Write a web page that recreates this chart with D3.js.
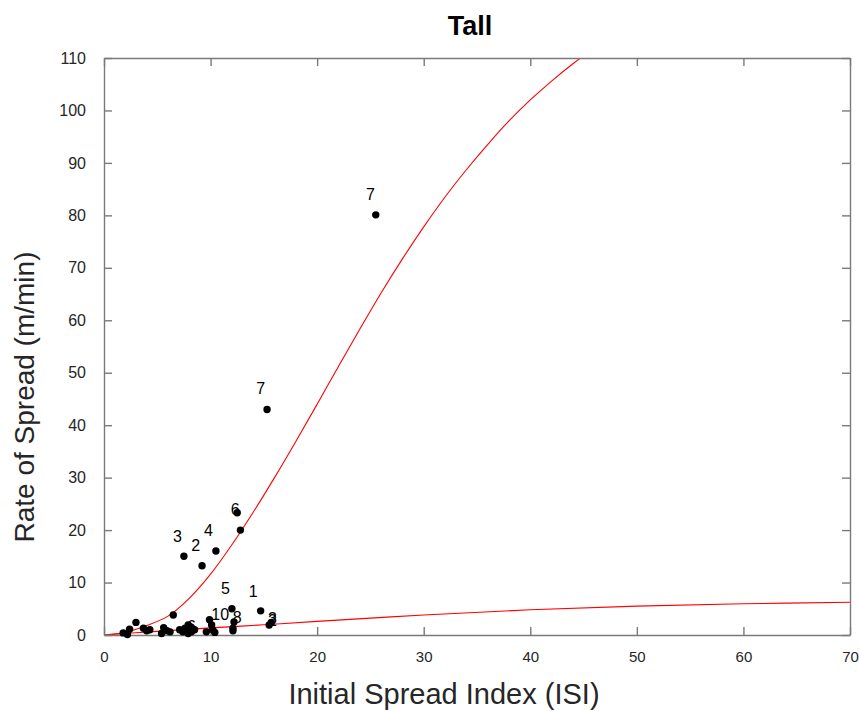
<!DOCTYPE html>
<meta charset="utf-8">
<script src="https://d3js.org/d3.v7.min.js"></script>
<style>
  body { margin: 0; background: #fff; }
  text { font-family: "Liberation Sans", Arial, sans-serif; }
</style>
<div id="chart"></div>
<script>

// observed fires: initial spread index vs rate of spread
var isi = [25.5, 15.3, 12.5, 12.8, 10.5, 7.5, 9.2, 12.0, 14.7, 15.5, 15.7, 6.5,
           9.9, 10.1, 10.2, 9.6, 12.2, 12.1, 12.1, 1.8, 2.4, 3.0, 3.7, 4.3,
           5.6, 5.4, 5.9, 2.2, 7.1, 7.6, 8.1, 8.2, 7.4, 8.5, 7.9, 6.2, 7.9, 4.0, 10.4];
var ros = [80.1, 43.0, 23.3, 20.0, 16.0, 15.0, 13.2, 5.0, 4.6, 1.9, 2.4, 3.8,
           2.9, 1.9, 1.0, 0.6, 2.5, 1.3, 0.8, 0.4, 1.1, 2.4, 1.3, 1.0,
           1.4, 0.3, 0.8, 0.1, 1.0, 1.3, 1.6, 0.6, 0.6, 1.0, 0.3, 0.6, 1.9, 0.8, 0.5];

// point labels (anchored in data units)
var labelText = ["7", "7", "6", "4", "3", "2", "5", "1", "10", "8", "3", "2", "6"];
var labelIsi  = [25.0, 14.7, 12.3, 9.8, 6.9, 8.6, 11.4, 14.0, 10.9, 12.5, 15.8, 15.8, 8.2];
var labelRos  = [83.9, 46.9, 24.0, 20.0, 18.7, 17.0, 8.8, 8.2, 4.0, 3.4, 3.1, 2.7, 1.7];

// fitted curves
var upperIsi = [0, 2, 4, 6, 8, 10, 12, 14, 16, 18, 20, 22, 24, 26, 28, 30, 32, 34, 36, 38, 40, 42, 44, 46];
var upperRos = [0, 0.5, 1.8, 3.6, 7.0, 11.6, 17.2, 23.4, 30.0, 36.9, 44.0, 51.2, 58.3, 65.2, 71.7, 77.8,
                83.5, 88.7, 93.5, 98.0, 102.0, 105.6, 108.9, 111.9];
var lowerIsi = [0, 5, 10, 15, 20, 30, 40, 50, 60, 70];
var lowerRos = [0, 0.7, 1.35, 1.95, 2.6, 3.8, 4.8, 5.5, 5.95, 6.25];

var xTicks = [0, 10, 20, 30, 40, 50, 60, 70];
var yTicks = [0, 10, 20, 30, 40, 50, 60, 70, 80, 90, 100, 110];

var W = 859, H = 711;
var margin = {top: 58, right: 9, bottom: 76, left: 104},
    width = W - margin.left - margin.right,
    height = H - margin.top - margin.bottom;

var svg = d3.select("#chart").append("svg")
    .attr("width", W)
    .attr("height", H);

var g = svg.append("g")
    .attr("transform", "translate(" + margin.left + "," + margin.top + ")");

var x = d3.scaleLinear().domain([0, 70]).range([0, width]);
var y = d3.scaleLinear().domain([0, 110]).range([height, 0]);

g.append("clipPath").attr("id", "clip")
  .append("rect").attr("width", width).attr("height", height);

// curves
var line = d3.line()
    .x(function(d) { return x(d[0]); })
    .y(function(d) { return y(d[1]); })
    .curve(d3.curveCatmullRom);

[[upperIsi, upperRos], [lowerIsi, lowerRos]].forEach(function(c) {
  g.append("path")
    .datum(d3.zip(c[0], c[1]))
    .attr("clip-path", "url(#clip)")
    .attr("fill", "none")
    .attr("stroke", "#ff0000")
    .attr("stroke-width", 1.1)
    .attr("d", line);
});

// axes (box with inward ticks on all sides)
var axisColor = "#7a7a7a";
function styleAxis(sel, fontSize) {
  sel.select(".domain").attr("stroke", axisColor).attr("stroke-width", 1.4);
  sel.selectAll(".tick line").attr("stroke", axisColor).attr("stroke-width", 1.4);
  sel.selectAll(".tick text")
    .attr("fill", "#262626")
    .style("font-size", fontSize + "px")
    .style("display", fontSize ? null : "none");
}

g.append("g")
  .attr("transform", "translate(0," + height + ")")
  .call(d3.axisBottom(x).tickValues(xTicks).tickSizeInner(-8).tickSizeOuter(0).tickPadding(16))
  .call(styleAxis, 15);

g.append("g")
  .call(d3.axisTop(x).tickValues(xTicks).tickSizeInner(-8).tickSizeOuter(0))
  .call(styleAxis, 0);

g.append("g")
  .call(d3.axisLeft(y).tickValues(yTicks).tickSizeInner(-8).tickSizeOuter(0).tickPadding(18))
  .call(styleAxis, 16);

g.append("g")
  .attr("transform", "translate(" + width + ",0)")
  .call(d3.axisRight(y).tickValues(yTicks).tickSizeInner(-8).tickSizeOuter(0))
  .call(styleAxis, 0);

// points
g.selectAll(".dot")
  .data(d3.zip(isi, ros))
  .enter().append("circle")
    .attr("class", "dot")
    .attr("cx", function(d) { return x(d[0]); })
    .attr("cy", function(d) { return y(d[1]); })
    .attr("r", 3.7)
    .attr("fill", "#000");

// labels
g.selectAll(".lbl")
  .data(d3.range(labelText.length))
  .enter().append("text")
    .attr("class", "lbl")
    .attr("x", function(i) { return x(labelIsi[i]); })
    .attr("y", function(i) { return y(labelRos[i]); })
    .attr("text-anchor", "middle")
    .attr("dominant-baseline", "central")
    .style("font-size", "16px")
    .attr("fill", "#000")
    .text(function(i) { return labelText[i]; });

// titles
svg.append("text")
  .attr("x", 470).attr("y", 35)
  .attr("text-anchor", "middle")
  .style("font-size", "27px")
  .style("font-weight", "bold")
  .text("Tall");

svg.append("text")
  .attr("x", 444).attr("y", 704)
  .attr("text-anchor", "middle")
  .style("font-size", "29px")
  .attr("fill", "#262626")
  .text("Initial Spread Index (ISI)");

svg.append("text")
  .attr("transform", "translate(34,397) rotate(-90)")
  .attr("text-anchor", "middle")
  .style("font-size", "28px")
  .attr("fill", "#262626")
  .text("Rate of Spread (m/min)");

</script>
